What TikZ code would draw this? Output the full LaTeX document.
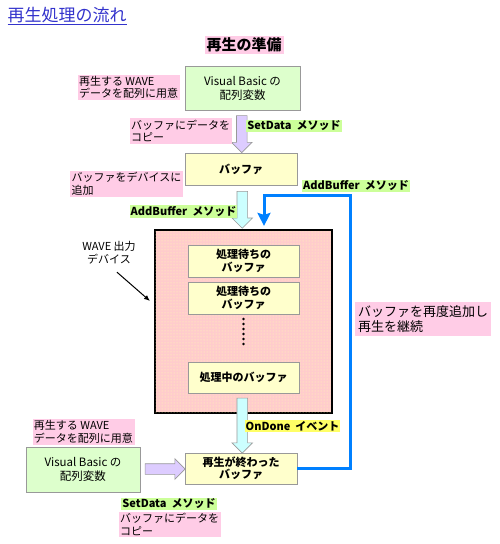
\documentclass[tikz,border=0pt]{standalone}
\usepackage{fontspec}
\setmainfont{Noto Sans CJK JP}
\usetikzlibrary{shapes.arrows,calc,arrows.meta,patterns}

\definecolor{notepink}{RGB}{255,204,230}
\definecolor{devpink}{RGB}{255,204,204}
\definecolor{methgreen}{RGB}{204,255,153}
\definecolor{vbgreen}{RGB}{221,255,204}
\definecolor{bufyellow}{RGB}{255,255,204}
\definecolor{evyellow}{RGB}{255,255,102}
\definecolor{copylav}{RGB}{221,204,255}
\definecolor{addcyan}{RGB}{204,255,255}
\definecolor{loopblue}{RGB}{0,128,255}
\definecolor{titleblue}{RGB}{51,51,204}
\newcommand{\lblfont}{\fontsize{11}{12.5}\selectfont}

\begin{document}
\begin{tikzpicture}[x=1pt,y=-1pt,
    every node/.style={font=\lblfont},
    note/.style={fill=notepink, inner sep=1.5pt, align=left},
    meth/.style={fill=methgreen, inner sep=1pt, font=\lblfont\bfseries},
    ev/.style={fill=evyellow, inner sep=1pt, font=\lblfont\bfseries},
    vbbox/.style={draw=gray!80, fill=vbgreen, line width=0.8pt, align=center,
      font=\fontsize{11.5}{14}\selectfont},
    bufbox/.style={draw=gray!80, fill=bufyellow, line width=0.8pt, align=center,
      font=\lblfont\bfseries},
    fat/.style={single arrow, draw=gray!80, line width=0.6pt, inner sep=5pt,
      single arrow head extend=5pt, single arrow tip angle=90, minimum height=#1},
  ]
  \useasboundingbox (0,0) rectangle (500,544);

  % title and heading
  \node[anchor=west, text=titleblue, font=\fontsize{17}{20}\selectfont] (title) at (4,16)
    {\underline{再生処理の流れ}};
  \node[note, inner sep=2pt, font=\fontsize{15}{18}\selectfont\bfseries] (prep) at (244,45) {再生の準備};

  % preparation
  \node[vbbox, minimum width=115pt, minimum height=44pt] (vbA) at (242.5,88) {Visual Basic の\\配列変数};
  \node[note] (prepA) at (128.5,87.5) {再生する WAVE\\データを配列に用意};
  \node[bufbox, minimum width=112pt, minimum height=32pt] (bufA) at (241,169) {バッファ};
  \node[fat=37pt, fill=copylav, rotate=-90] (cpA) at ($(vbA.south)!0.5!(bufA.north)$) {};
  \node[note] (copyA) at (180.5,131) {バッファにデータを\\コピー};
  \node[meth] (sdA) at (294,126) {SetData\ \ メソッド};
  \node[note] (addA) at (126.5,184) {バッファをデバイスに\\追加};

  % output device
  \node[draw, line width=2.2pt, fill=devpink, minimum width=177pt, minimum height=183pt,
    postaction={pattern=dots, pattern color=yellow!30}] (dev) at (243.5,321.5) {};
  \node[bufbox, minimum width=111pt, minimum height=32pt] (wait1) at (243.5,261) {処理待ちの\\バッファ};
  \node[bufbox, minimum width=111pt, minimum height=32pt] (wait2) at (243.5,298) {処理待ちの\\バッファ};
  \node[bufbox, minimum width=111pt, minimum height=31pt] (cur) at (243.5,377.5) {処理中のバッファ};
  \foreach \k in {0,...,5}
    \fill (243.5,319+5*\k) circle (1.3pt);
  \node[align=center] (devlbl) at (109,252.5) {WAVE 出力\\デバイス};
  \coordinate (ptrTip) at (150,301);
  \draw[line width=1pt, -{Latex[length=6pt,width=5pt]}] ([xshift=8pt,yshift=-5pt]devlbl.south) -- (ptrTip);

  \node[fat=37pt, fill=addcyan, rotate=-90] (addB) at ($(bufA.south)!0.5!(dev.north)$) {};
  \node[meth] (abA) at (183.5,211.5) {AddBuffer\ \ メソッド};

  % after playback
  \node[bufbox, minimum width=112pt, minimum height=31pt] (done) at (241,468.5) {再生が終わった\\バッファ};
  \node[fat=55pt, fill=addcyan, rotate=-90] (ondone) at ($(cur.south)!0.5!(done.north)$) {};
  \node[ev] (od) at (292.5,426) {OnDone\ \ イベント};
  \node[note] (prepB) at (83.5,432) {再生する WAVE\\データを配列に用意};
  \node[vbbox, minimum width=114pt, minimum height=45pt] (vbB) at (83,469.5) {Visual Basic の\\配列変数};
  \node[fat=40pt, fill=copylav] (cpB) at ($(vbB.east)!0.5!(done.west)$) {};
  \node[meth] (sdB) at (169,504) {SetData\ \ メソッド};
  \node[note] (copyB) at (169.5,524.5) {バッファにデータを\\コピー};

  % loop back to the device
  \coordinate (loopR) at (350,195);
  \draw[loopblue, line width=3pt, shorten >=3pt, -{Stealth[length=13pt,width=13pt,inset=2pt]}]
    (done.east) -| (loopR) -| ([xshift=20.5pt]dev.north);
  \node[meth] (abB) at (356,186) {AddBuffer\ \ メソッド};
  \node[note, font=\fontsize{13}{15}\selectfont, inner sep=3pt] (again) at (423,319) {バッファを再度追加し\\再生を継続};
\end{tikzpicture}
\end{document}
